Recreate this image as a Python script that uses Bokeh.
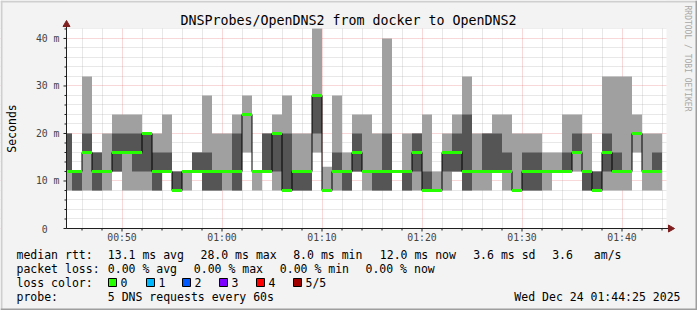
from bokeh.plotting import figure
from bokeh.models import Range1d, FixedTicker, Label, BoxAnnotation
from bokeh.embed import file_html
from bokeh.resources import INLINE
import math

# ---- data (minutes after 00:00; each column ends at that minute) ----
minute_end = [45, 46, 47, 48, 49, 50, 51, 52, 53, 54,
              55, 56, 57, 58, 59, 60, 61, 62, 63, 64,
              65, 66, 67, 68, 69, 70, 71, 72, 73, 74,
              75, 76, 77, 78, 79, 80, 81, 82, 83, 84,
              85, 86, 87, 88, 89, 90, 91, 92, 93, 94,
              95, 96, 97, 98, 99, 100, 101, 102, 103, 104]
ping_min = [8, 8, 8, 8, 8, 12, 8, 8, 8, 8,
            12, 8, 8, 12, 8, 8, 8, 8, 16, 8,
            12, 8, 8, 8, 8, 16, 8, 8, 8, 12,
            8, 8, 8, 12, 8, 8, 8, 8, 8, 12,
            8, 8, 8, 12, 8, 8, 8, 8, 8, 12,
            12, 12, 8, 8, 8, 8, 8, 16, 8, 8]
ping_lo = [12, 8, 16, 8, 12, 12, 16, 12, 12, 8,
           12, 8, 12, 12, 8, 8, 12, 8, 24, 12,
           12, 12, 8, 8, 8, 20, 8, 12, 8, 12,
           12, 8, 8, 12, 8, 12, 8, 8, 12, 12,
           8, 12, 12, 12, 12, 8, 8, 8, 12, 12,
           12, 16, 8, 8, 12, 12, 12, 20, 12, 12]
median = [12, 12, 16, 12, 12, 16, 16, 16, 20, 12,
          12, 8, 12, 12, 12, 12, 12, 12, 24, 12,
          12, 20, 8, 12, 12, 28, 8, 12, 12, 16,
          12, 12, 12, 12, 12, 16, 8, 8, 16, 16,
          12, 12, 12, 12, 12, 8, 12, 12, 12, 12,
          12, 16, 12, 8, 16, 12, 12, 20, 12, 12]
ping_hi = [20, 12, 20, 16, 12, 20, 20, 20, 20, 16,
           16, 12, 12, 16, 16, 12, 12, 20, 24, 12,
           20, 20, 20, 12, 12, 28, 8, 16, 12, 20,
           12, 12, 20, 12, 12, 20, 12, 8, 16, 20,
           24, 12, 20, 20, 16, 8, 16, 16, 12, 12,
           16, 20, 12, 12, 20, 16, 12, 20, 12, 16]
ping_max = [20, 12, 32, 16, 20, 24, 24, 24, 20, 20,
            24, 12, 12, 16, 28, 20, 20, 24, 28, 12,
            20, 24, 28, 20, 20, 44, 13, 28, 16, 24,
            24, 20, 40, 12, 20, 20, 24, 12, 20, 24,
            32, 20, 20, 24, 24, 20, 20, 20, 16, 16,
            24, 24, 20, 12, 32, 32, 32, 24, 20, 20]

x_tick_values = [50, 60, 70, 80, 90, 100]
x_tick_labels = ["00:50", "01:00", "01:10", "01:20", "01:30", "01:40"]
x_minor_values = [46, 48, 52, 54, 56, 58, 62, 64, 66, 68, 72, 74, 76, 78,
                  82, 84, 86, 88, 92, 94, 96, 98, 102, 104]
y_tick_values = [0, 10, 20, 30, 40]
y_tick_labels = ["0", "10 m", "20 m", "30 m", "40 m"]
y_minor_values = [2, 4, 6, 8, 12, 14, 16, 18, 22, 24, 26, 28, 32, 34, 36, 38, 42]
y_max = 42.1

title_text = "DNSProbes/OpenDNS2 from docker to OpenDNS2"
axis_label = "Seconds"
watermark = "RRDTOOL / TOBI OETIKER"
legend_rows = [
    [(16, "median rtt:"), (107.3, "13.1 ms avg"), (200, "28.0 ms max"),
     (292.7, "8.0 ms min"), (379.3, "12.0 ms now"), (472.7, "3.6 ms sd"),
     (551.7, "3.6"), (593.3, "am/s")],
    [(16, "packet loss:"), (107.3, "0.00 % avg"), (193.3, "0.00 % max"),
     (279.3, "0.00 % min"), (365, "0.00 % now")],
    [(16, "loss color:")],
    [(16, "probe:"), (107.3, "5 DNS requests every 60s")],
]
legend_row_y = [254.3, 268.3, 282.3, 296]
loss_labels = ["0", "1", "2", "3", "4", "5/5"]
loss_colors = ["#26ff00", "#00b8ff", "#0059ff", "#7e00ff", "#ff0000", "#a10000"]
loss_box_x = [108, 146, 182, 219, 256, 293]
date_text = "Wed Dec 24 01:44:25 2025"

# ---- geometry: canvas pixels of the graph area ----
W, H = 697, 310
PL, PR, PT, PB = 66, 666, 28, 228
T0 = 44.45            # time (minutes) at the left edge of the graph area
PX_PER_MIN = (PR - PL) / 60.0
PX_PER_MS = (PB - PT) / y_max


def xd(px):
    return T0 + (px - PL) / PX_PER_MIN


def yd(py):
    return (PB - py) / PX_PER_MS


MONO = "DejaVu Sans Mono"
BACK = "#f3f3f3"
AXIS = "#1f1f1f"
ARROW = "#801f1f"

p = figure(width=W, height=H, output_backend="svg", toolbar_location=None, tools="",
           title=None, min_border=0, x_axis_location=None, y_axis_location=None,
           x_range=Range1d(xd(0), xd(W)), y_range=Range1d(yd(H), yd(0)))
p.background_fill_color = "white"
p.border_fill_color = BACK
p.outline_line_color = None

# grid
p.xgrid.ticker = FixedTicker(ticks=x_tick_values, minor_ticks=x_minor_values)
p.ygrid.ticker = FixedTicker(ticks=y_tick_values, minor_ticks=y_minor_values)
for g in (p.xgrid, p.ygrid):
    g.grid_line_color = "#de4f4f"
    g.grid_line_alpha = 0.45
    g.grid_line_dash = "1 1"
    g.minor_grid_line_color = "#8f8f8f"
    g.minor_grid_line_alpha = 0.4
    g.minor_grid_line_dash = "1 1"

# smoke + median
start = [m - 1 for m in minute_end]
p.quad(left=start, right=minute_end, bottom=ping_min, top=ping_max,
       fill_color="#a0a0a0", line_color=None)
p.quad(left=start, right=minute_end, bottom=ping_lo, top=ping_hi,
       fill_color="#555555", line_color=None)
p.step(x=start + [minute_end[-1]], y=median + [median[-1]], mode="after",
       line_color="black", line_width=1)
p.segment(x0=start, x1=minute_end, y0=median, y1=median,
          line_color="#26ff00", line_width=3)


def box(x0, y0, x1, y1, fill):
    p.add_layout(BoxAnnotation(left=xd(x0), right=xd(x1), top=yd(y0), bottom=yd(y1),
                               fill_color=fill, fill_alpha=1.0, line_color=None,
                               line_alpha=0))


# background outside the graph area
box(0, 0, PL, H, BACK)
box(PR, 0, W, H, BACK)
box(0, 0, W, PT, BACK)
box(0, PB, W, H, BACK)
# 3D frame
box(0, 0, W, 2, "#cfcfcf")
box(0, 0, 2, H, "#cfcfcf")
box(0, H - 2, W, H, "#9e9e9e")
box(W - 2, 0, W, H, "#9e9e9e")


def lab(px, py, text, size="11.5px", align="left", angle=0.0, color="black"):
    p.add_layout(Label(x=xd(px), y=yd(py), text=text, text_font=MONO,
                       text_font_size=size, text_align=align,
                       text_baseline="middle", angle=angle, text_color=color))


lab(348, 20, title_text, size="13.3px", align="center")
lab(11, (PT + PB) / 2, axis_label, size="11.5px", align="center", angle=math.pi / 2)
lab(687, 58, watermark, size="8px", align="center", angle=-math.pi / 2, color="#a8a8a8")

# tick labels (placed at the tick values through the scales)
TICK_CH = 5.9
for v, t in zip(y_tick_values, y_tick_labels):
    right_px = 59 if t.endswith("m") else 59 - 2 * TICK_CH
    p.add_layout(Label(x=xd(right_px), y=v, text=t, text_font=MONO,
                       text_font_size="9.8px", text_align="right",
                       text_baseline="middle"))
for v, t in zip(x_tick_values, x_tick_labels):
    p.add_layout(Label(x=v, y=yd(236.7), text=t, text_font=MONO,
                       text_font_size="9.8px", text_align="center",
                       text_baseline="middle"))

# legend
for rows, cy in zip(legend_rows, legend_row_y):
    for px, t in rows:
        lab(px, cy, t)
for bx, t in zip(loss_box_x, loss_labels):
    lab(bx + 12, legend_row_y[2], t)
lab(680, legend_row_y[3], date_text, align="right")
p.quad(left=[xd(b) for b in loss_box_x], right=[xd(b + 8) for b in loss_box_x],
       top=yd(278), bottom=yd(286), fill_color=loss_colors, line_color="black",
       line_width=1, level="overlay")

# axes: lines, ticks, arrows
x_all = sorted(x_tick_values + x_minor_values)
y_all = sorted(y_tick_values + y_minor_values)
p.segment(x0=[xd(PL - 3) if v in y_tick_values else xd(PL - 2) for v in y_all],
          x1=xd(PL), y0=y_all, y1=y_all, line_color=AXIS, line_width=1, level="overlay")
p.segment(x0=x_all, x1=x_all, y0=0,
          y1=[yd(PB + 3) if v in x_tick_values else yd(PB + 2) for v in x_all],
          line_color=AXIS, line_width=1, level="overlay")
p.segment(x0=[xd(PL), xd(PL)], x1=[xd(PR + 4), xd(PL)], y0=[0, 0], y1=[0, yd(PT - 4)],
          line_color=AXIS, line_width=1, level="overlay")
p.scatter(x=[xd(PR + 4)], y=[0], marker="triangle", size=7, angle=-math.pi / 2,
          fill_color=ARROW, line_color=ARROW, level="overlay")
p.scatter(x=[xd(PL)], y=[yd(PT - 4)], marker="triangle", size=7,
          fill_color=ARROW, line_color=ARROW, level="overlay")

open("out.html", "w").write(file_html(p, INLINE))
